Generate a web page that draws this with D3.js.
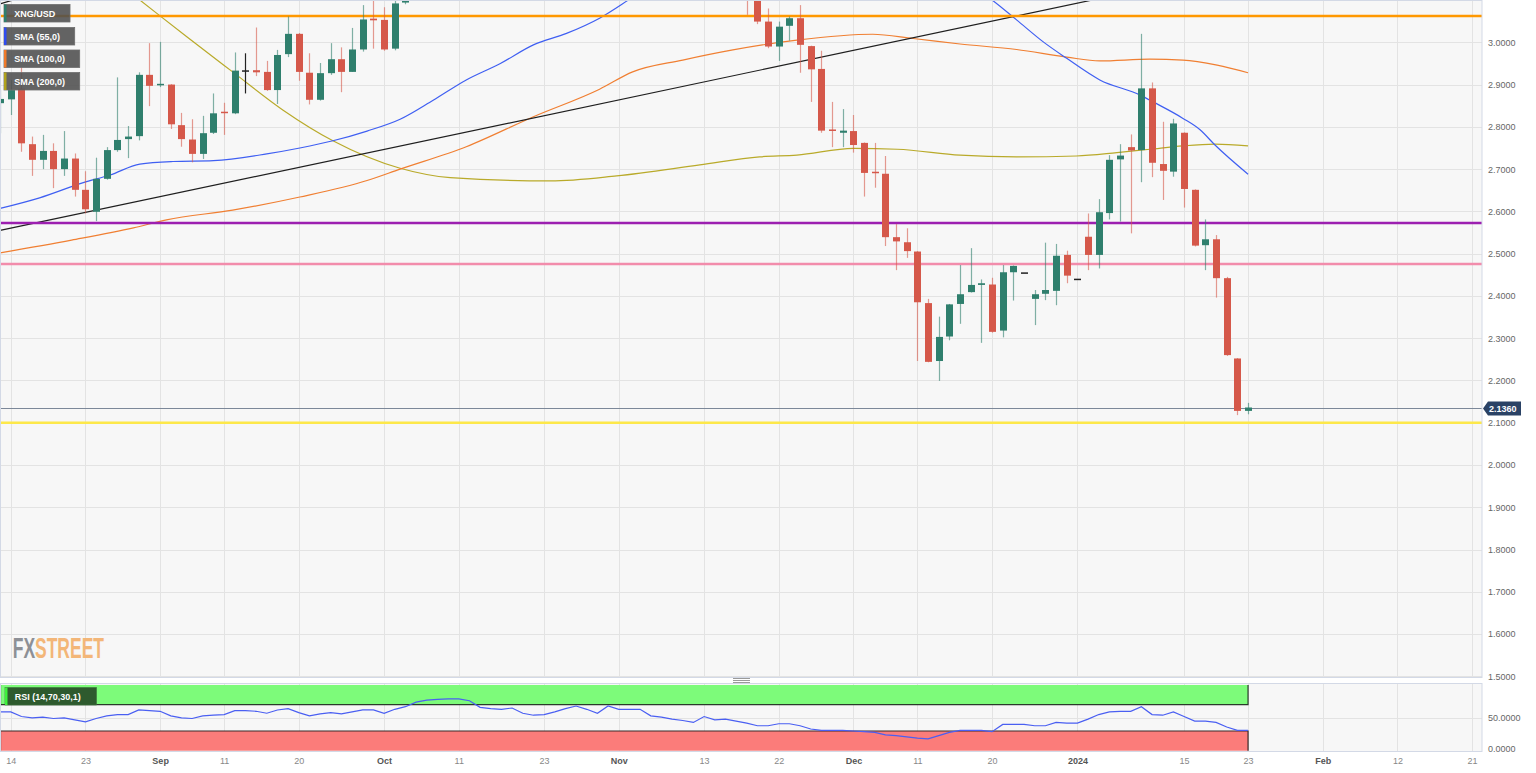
<!DOCTYPE html>
<html><head><meta charset="utf-8">
<script src="https://cdn.jsdelivr.net/npm/d3@7"></script>
<style>html,body{margin:0;padding:0;background:#fff;overflow:hidden}svg{display:block}</style>
</head><body>
<svg id="c" width="1536" height="773"></svg>
<script>
// ---------- DATA ----------
const firstDay = "2023-08-11";           // first (partly visible) daily candle
const axisLastDay = "2024-02-23";        // right end of time axis
// Daily candles, Aug 11 2023 .. Jan 23 2024 (weekdays). Oct 5 .. Nov 17 lie above the visible range (estimated).
const opens = [2.856,2.865,2.890,2.759,2.722,2.743,2.700,2.725,2.651,2.599,2.677,2.745,2.771,2.778,2.923,2.897,2.900,2.804,2.770,2.736,2.786,2.834,2.832,2.932,2.934,2.930,2.887,2.972,3.020,2.928,2.864,2.927,2.960,2.930,2.983,3.056,3.053,2.985,3.094,
 3.160,3.280,3.330,3.420,3.370,3.400,3.330,3.250,3.220,3.210,3.240,3.180,3.170,3.190,3.240,3.280,3.330,3.370,3.290,3.240,3.380,3.330,3.340,3.320,3.220,3.200,3.180,3.150,3.250,3.210,3.190,3.170,
 3.120,3.049,2.990,3.039,3.057,2.991,2.937,2.792,2.786,2.790,2.762,2.692,2.689,2.539,2.527,2.505,2.383,2.246,2.304,2.381,2.409,2.426,2.427,2.318,2.456,2.454,2.393,2.405,2.412,2.497,2.439,
 2.540,2.497,2.596,2.723,2.752,2.745,2.891,2.712,2.694,2.786,2.651,2.520,2.534,2.442,2.252,2.128];
const highs = [2.887,2.911,2.941,2.777,2.781,2.761,2.790,2.737,2.695,2.727,2.752,2.917,2.802,2.929,2.998,3.001,2.901,2.833,2.818,2.826,2.879,2.857,2.976,2.974,3.035,2.956,2.982,3.061,3.022,2.974,2.951,2.998,2.988,3.034,3.088,3.110,3.083,3.105,3.180,
 3.300,3.360,3.450,3.470,3.450,3.460,3.380,3.300,3.260,3.280,3.270,3.220,3.220,3.260,3.310,3.360,3.400,3.400,3.340,3.400,3.420,3.380,3.370,3.330,3.260,3.240,3.210,3.280,3.280,3.240,3.220,3.200,
 3.140,3.080,3.049,3.061,3.088,2.992,2.980,2.859,2.842,2.828,2.763,2.762,2.731,2.570,2.560,2.506,2.393,2.351,2.381,2.473,2.513,2.439,2.443,2.473,2.472,2.454,2.414,2.526,2.523,2.507,2.439,
 2.595,2.629,2.733,2.759,2.782,3.020,2.905,2.812,2.819,2.787,2.652,2.581,2.544,2.445,2.253,2.147];
const lows = [2.785,2.828,2.741,2.684,2.700,2.655,2.684,2.635,2.595,2.577,2.675,2.741,2.726,2.768,2.849,2.894,2.795,2.753,2.716,2.724,2.783,2.781,2.830,2.879,2.920,2.885,2.854,2.965,2.909,2.853,2.862,2.923,2.882,2.930,2.978,2.985,2.980,2.981,3.090,
 3.140,3.250,3.300,3.330,3.320,3.300,3.220,3.180,3.160,3.170,3.150,3.130,3.120,3.160,3.200,3.250,3.280,3.260,3.200,3.220,3.300,3.280,3.260,3.180,3.150,3.140,3.120,3.140,3.180,3.150,3.140,3.065,
 3.043,2.986,2.956,3.004,2.928,2.859,2.786,2.752,2.752,2.739,2.635,2.656,2.518,2.461,2.490,2.246,2.243,2.199,2.295,2.334,2.408,2.289,2.313,2.302,2.389,2.454,2.331,2.390,2.378,2.430,2.439,
 2.461,2.465,2.581,2.576,2.548,2.669,2.681,2.627,2.682,2.609,2.517,2.461,2.396,2.258,2.118,2.120];
const closes = [2.866,2.887,2.761,2.722,2.743,2.700,2.725,2.651,2.605,2.677,2.745,2.769,2.777,2.923,2.897,2.900,2.806,2.771,2.736,2.785,2.832,2.832,2.933,2.932,2.929,2.887,2.970,3.020,2.930,2.864,2.927,2.960,2.930,2.983,3.054,3.052,2.983,3.092,3.160,
 3.280,3.330,3.420,3.370,3.400,3.330,3.250,3.220,3.210,3.240,3.180,3.170,3.190,3.240,3.280,3.330,3.370,3.290,3.240,3.380,3.330,3.340,3.320,3.220,3.200,3.180,3.150,3.250,3.210,3.190,3.170,3.120,
 3.049,2.990,3.037,3.057,2.994,2.936,2.791,2.789,2.791,2.757,2.691,2.689,2.539,2.529,2.506,2.385,2.244,2.303,2.380,2.404,2.426,2.430,2.315,2.456,2.471,2.454,2.404,2.414,2.495,2.448,2.439,
 2.497,2.598,2.722,2.732,2.744,2.891,2.715,2.696,2.808,2.653,2.519,2.534,2.442,2.260,2.128,2.136];
// RSI(14) per candle
const rsi14 = [59,59,52,50,51,49,50,47,44,49,53,55,55,62,61,60,53,50,49,53,54,55,61,61,60,57,62,64,58,53,56,58,56,59,62,62,57,63,67,
 74,77,78,79,79,76,66,64,63,65,57,54,55,59,64,68,63,57,68,63,63,63,53,51,48,46,43,52,47,48,45,42,
 38,38,41,41,38,33,31,31,31,30,29,28,24,23,21,19,18,23,28,31,31,31,29,40,40,40,38,38,43,42,42,
 48,55,59,60,60,67,55,54,59,52,45,45,43,36,31,31];
// Moving averages: [candle number (0 = Aug 11), value]
const sma55 = [[0,2.607],[3.7,2.632],[7.8,2.668],[10.3,2.686],[13.1,2.712],[16.2,2.718],[20,2.720],[25,2.736],[28.1,2.750],[31.2,2.767],[34.4,2.790],[37.5,2.818],[40.6,2.863],[43.7,2.911],[46.9,2.950],[50,2.994],[53.1,3.021],[56.2,3.057],[58.9,3.100],[63,3.17],[69,3.22],[75,3.24],[81,3.23],[87,3.19],[93,3.100],[95.3,3.053],[97.8,3.001],[100,2.962],[103.1,2.911],[106.9,2.875],[108.1,2.859],[110.9,2.820],[112.5,2.793],[113.9,2.757],[117,2.688]];
const sma100 = [[0,2.502],[6.7,2.532],[12.5,2.561],[15.6,2.580],[21.8,2.603],[28.1,2.634],[34.4,2.673],[37.5,2.700],[43.7,2.753],[50,2.824],[56.2,2.889],[59.3,2.930],[64,2.958],[68.7,2.982],[74.7,3.005],[81.8,3.019],[85.6,3.009],[90,2.996],[95.3,2.983],[100,2.965],[103.1,2.956],[107.8,2.960],[110.9,2.958],[114.1,2.946],[117,2.928]];
const sma200 = [[0,3.36],[6,3.24],[13.1,3.100],[17.5,3.013],[21.8,2.930],[26.5,2.840],[31.2,2.767],[37.5,2.702],[42.2,2.680],[51.6,2.672],[57.8,2.684],[65.6,2.710],[71.2,2.729],[74.7,2.733],[80,2.749],[84.1,2.747],[90,2.733],[95.3,2.729],[100.9,2.731],[104.7,2.739],[107.8,2.747],[110.9,2.755],[113.9,2.759],[117,2.755]];
// Trend lines (two anchor points each, extended to the right)
const trendMain = [[0,2.555],[71.2,2.934]];
const trendTop = [[0,3.091],[1.2,3.100]];
// Horizontal levels
const levelValues = [3.062, 2.5725, 2.4757, 2.100];
const levelColors = ["#ff9800", "#9c1fb0", "#f28cab", "#fde84a"];
const lastPrice = 2.1360;
// Axis ticks
const priceTicks = [1.5,1.6,1.7,1.8,1.9,2.0,2.1,2.2,2.3,2.4,2.5,2.6,2.7,2.8,2.9,3.0];
const rsiTicks = [0, 50];
const tickDates = ["2023-08-14","2023-08-23","2023-09-01","2023-09-11","2023-09-20","2023-10-02","2023-10-11","2023-10-23","2023-11-01","2023-11-13","2023-11-22","2023-12-01","2023-12-11","2023-12-20","2024-01-01","2024-01-15","2024-01-23","2024-02-01","2024-02-12","2024-02-21"];
const tickLabels = ["14","23","Sep","11","20","Oct","11","23","Nov","13","22","Dec","11","20","2024","15","23","Feb","12","21"];
const legendNames = ["XNG/USD","SMA (55,0)","SMA (100,0)","SMA (200,0)"];
const legendColors = ["#2f7f6d","#2f4cf0","#f07a2a","#b0a21c"];

// ---------- LAYOUT ----------
const svg = d3.select("#c");
const W = 1482, mainTop = 0, mainBot = 677, rsiTop = 683, rsiBot = 751;
const FONT = "'Liberation Sans', Arial, sans-serif";
const fmt = d3.timeFormat("%Y-%m-%d");
const days = d3.timeDay.range(new Date(firstDay + "T00:00"), d3.timeDay.offset(new Date(axisLastDay + "T00:00"), 1))
  .filter(d => d.getDay() !== 0 && d.getDay() !== 6);
const dayIndex = new Map(days.map((d, i) => [fmt(d), i]));
const candles = opens.map((o, i) => ({k: i, o, h: highs[i], l: lows[i], c: closes[i], r: rsi14[i]}));
const lastK = candles.length - 1;

const x = d3.scaleLinear().domain([0, 138]).range([0.13, 1472.04]);
const y = d3.scaleLinear().domain([1.5, 3.0]).range([676.35, 42.3]);
const yr = d3.scaleLinear().domain([0, 100]).range([750.7, 685]);

const defs = svg.append("defs");
defs.append("clipPath").attr("id", "clipMain").append("rect").attr("x", 0).attr("y", mainTop).attr("width", W).attr("height", mainBot - mainTop);
defs.append("clipPath").attr("id", "clipRsi").append("rect").attr("x", 0).attr("y", rsiTop).attr("width", W).attr("height", rsiBot - rsiTop);

// panels
svg.append("rect").attr("x", 0.5).attr("y", mainTop + 0.5).attr("width", W - 0.5).attr("height", mainBot - mainTop).attr("fill", "#f7f7f7");
svg.append("rect").attr("x", 0.5).attr("y", rsiTop + 0.5).attr("width", W - 0.5).attr("height", rsiBot - rsiTop).attr("fill", "#f7f7f7");

const tickK = tickDates.map(d => dayIndex.get(d));
// grid
const grid = svg.append("g").attr("stroke", "#e3e3e3").attr("stroke-width", 1);
grid.selectAll(".hg").data(priceTicks).join("line")
  .attr("x1", 0).attr("x2", W).attr("y1", d => Math.round(y(d)) + 0.5).attr("y2", d => Math.round(y(d)) + 0.5);
grid.selectAll(".vg").data(tickK).join("line")
  .attr("x1", d => Math.round(x(d)) + 0.5).attr("x2", d => Math.round(x(d)) + 0.5).attr("y1", mainTop).attr("y2", mainBot);
grid.selectAll(".vr").data(tickK).join("line")
  .attr("x1", d => Math.round(x(d)) + 0.5).attr("x2", d => Math.round(x(d)) + 0.5).attr("y1", rsiTop).attr("y2", rsiBot);
grid.append("line").attr("x1", 0).attr("x2", W).attr("y1", Math.round(yr(50)) + 0.5).attr("y2", Math.round(yr(50)) + 0.5);

// ---------- MAIN PANEL ----------
const main = svg.append("g").attr("clip-path", "url(#clipMain)");

// SMA lines
const smaLine = d3.line().x(d => x(d[0])).y(d => y(d[1])).curve(d3.curveMonotoneX);
main.append("path").datum(sma200).attr("d", smaLine).attr("fill", "none").attr("stroke", "#b9aa2a").attr("stroke-width", 1.2);
main.append("path").datum(sma100).attr("d", smaLine).attr("fill", "none").attr("stroke", "#f07f32").attr("stroke-width", 1.2);
main.append("path").datum(sma55).attr("d", smaLine).attr("fill", "none").attr("stroke", "#3f5ff2").attr("stroke-width", 1.2);

// trend lines (extended to right edge)
function ray(pts) {
  const [a, b] = pts, s = (b[1] - a[1]) / (b[0] - a[0]);
  const kEnd = x.invert(W);
  return [a, [kEnd, a[1] + s * (kEnd - a[0])]];
}
const straight = d3.line().x(d => x(d[0])).y(d => y(d[1]));
main.append("path").datum(ray(trendMain)).attr("d", straight).attr("stroke", "#1f1f1f").attr("stroke-width", 1.2).attr("fill", "none");
main.append("path").datum(ray(trendTop)).attr("d", straight).attr("stroke", "#1f1f1f").attr("stroke-width", 1.2).attr("fill", "none");

// horizontal levels
main.selectAll(".lvl").data(levelValues).join("line")
  .attr("x1", 0).attr("x2", W).attr("y1", d => y(d)).attr("y2", d => y(d))
  .attr("stroke", (d, i) => levelColors[i]).attr("stroke-width", 2.5);

// last price line
main.append("line").attr("x1", 0).attr("x2", W).attr("y1", Math.round(y(lastPrice)) + 0.5).attr("y2", Math.round(y(lastPrice)) + 0.5)
  .attr("stroke", "#7c8899").attr("stroke-width", 1);

// candles
const UP = "#2f7f6d", DOWN = "#d5584a", FLAT = "#222";
const col = d => d.c > d.o ? UP : d.c < d.o ? DOWN : FLAT;
const bw = 7;
const cg = main.append("g");
cg.selectAll(".wick").data(candles.filter(d => d.h > d.l)).join("line")
  .attr("x1", d => Math.round(x(d.k)) + 0.5).attr("x2", d => Math.round(x(d.k)) + 0.5)
  .attr("y1", d => y(d.h)).attr("y2", d => y(d.l))
  .attr("stroke", col).attr("stroke-opacity", d => col(d) === FLAT ? 1 : 0.6).attr("stroke-width", 1.2);
cg.selectAll(".body").data(candles).join("rect")
  .attr("x", d => Math.round(x(d.k)) + 0.5 - bw / 2).attr("width", bw)
  .attr("y", d => Math.min(y(d.o), y(d.c)) - (Math.abs(y(d.o) - y(d.c)) < 1.5 ? 0.75 : 0))
  .attr("height", d => Math.max(1.5, Math.abs(y(d.o) - y(d.c))))
  .attr("fill", col);

// panel borders
svg.append("rect").attr("x", 0.5).attr("y", mainTop + 0.5).attr("width", W - 0.5).attr("height", mainBot - mainTop)
  .attr("fill", "none").attr("stroke", "#d3d9e6");

// ---------- RSI PANEL ----------
const rsiG = svg.append("g").attr("clip-path", "url(#clipRsi)");
const xEnd = x(lastK);
rsiG.append("rect").attr("x", 0).attr("y", yr(100)).attr("width", xEnd).attr("height", yr(70) - yr(100)).attr("fill", "#7dfb7a");
rsiG.append("rect").attr("x", 0).attr("y", yr(30)).attr("width", xEnd).attr("height", yr(0) - yr(30)).attr("fill", "#fb7c7a");
rsiG.append("path").attr("d", `M0.5,${yr(100)}V${yr(70)}H${xEnd}V${yr(100)}`).attr("fill", "none").attr("stroke", "#2a3a2a").attr("stroke-width", 1.2);
rsiG.append("path").attr("d", `M0.5,${yr(0)}V${yr(30)}H${xEnd}V${yr(0)}`).attr("fill", "none").attr("stroke", "#3a2a2a").attr("stroke-width", 1.2);
rsiG.append("path").datum(candles).attr("d", d3.line().x(d => x(d.k)).y(d => yr(d.r)))
  .attr("fill", "none").attr("stroke", "#4a5ff2").attr("stroke-width", 1.2);
svg.append("rect").attr("x", 0.5).attr("y", rsiTop + 0.5).attr("width", W - 0.5).attr("height", rsiBot - rsiTop)
  .attr("fill", "none").attr("stroke", "#d3d9e6");

// drag handle
svg.append("g").attr("stroke", "#9a9a9a").attr("stroke-width", 1).selectAll("line").data([0, 2, 4]).join("line")
  .attr("x1", 733).attr("x2", 750).attr("y1", d => 678.5 + d).attr("y2", d => 678.5 + d);

// ---------- AXES ----------
const yAxis = svg.append("g").attr("transform", `translate(${W},0)`)
  .call(d3.axisRight(y).tickValues(priceTicks).tickFormat(d3.format(".4f")).tickSize(0).tickPadding(6));
yAxis.select(".domain").remove();
yAxis.selectAll("text").attr("font-family", FONT).attr("font-size", 9).attr("fill", "#666");

const rAxis = svg.append("g").attr("transform", `translate(${W},0)`)
  .call(d3.axisRight(yr).tickValues(rsiTicks).tickFormat(d3.format(".4f")).tickSize(0).tickPadding(6));
rAxis.select(".domain").remove();
rAxis.selectAll("text").attr("font-family", FONT).attr("font-size", 9).attr("fill", "#666")
  .attr("dy", (d) => d === 0 ? "0.05em" : "0.32em");

const xAxis = svg.append("g").attr("transform", `translate(0,${rsiBot})`)
  .call(d3.axisBottom(x).tickValues(tickK).tickFormat((d, i) => tickLabels[i]).tickSize(0).tickPadding(7));
xAxis.select(".domain").remove();
xAxis.selectAll("text").attr("font-family", FONT).attr("font-size", 9)
  .attr("font-weight", (d, i) => /^\d{1,2}$/.test(tickLabels[i]) ? "normal" : "bold")
  .attr("fill", (d, i) => /^\d{1,2}$/.test(tickLabels[i]) ? "#888" : "#555");

// last price label
const yl = Math.round(y(lastPrice)) + 0.5;
svg.append("path").attr("d", `M${W + 1},${yl}L${W + 6},${yl - 7}H1521V${yl + 7}H${W + 6}Z`).attr("fill", "#2a4265");
svg.append("text").attr("x", 1489).attr("y", yl + 3.3).attr("font-family", FONT).attr("font-size", 9).attr("font-weight", "bold")
  .attr("fill", "#fff").text(d3.format(".4f")(lastPrice));

// ---------- LEGENDS ----------
const leg = svg.append("g");
legendNames.forEach((name, i) => {
  const g = leg.append("g").attr("transform", `translate(4,${[4.5, 27.5, 50, 72.5][i]})`);
  const r = g.append("rect").attr("height", 17.5).attr("fill", "#4f4f4f").attr("fill-opacity", 0.88).attr("stroke", "#6e6e6e").attr("stroke-width", 0.8);
  g.append("rect").attr("width", 2.5).attr("height", 17.5).attr("fill", legendColors[i]);
  const t = g.append("text").attr("x", 10.3).attr("y", 12.3).attr("font-family", FONT).attr("font-size", 9).attr("font-weight", "bold").attr("fill", "#fff").text(name);
  r.attr("width", t.node().getComputedTextLength() + 25);
});
const rg = svg.append("g").attr("transform", "translate(5,687.5)");
rg.append("rect").attr("width", 91.5).attr("height", 17.5).attr("fill", "#2e5a2e").attr("stroke", "#3b6e3b").attr("stroke-width", 0.6);
rg.append("rect").attr("width", 2.5).attr("height", 17.5).attr("fill", "#3df03d");
rg.append("text").attr("x", 9.7).attr("y", 12.3).attr("font-family", FONT).attr("font-size", 9).attr("font-weight", "bold").attr("fill", "#fff").text("RSI (14,70,30,1)");

// watermark (single text, two coloured parts, horizontally condensed by a transform)
const wmG = svg.append("g");
const wm = wmG.append("text").attr("x", 0).attr("y", 0).attr("font-family", FONT).attr("font-weight", "bold").attr("font-size", 29);
wm.append("tspan").attr("fill", "#8d9096").text("FX");
wm.append("tspan").attr("fill", "#f3b678").text("STREET");
const wmLen = wm.node().getComputedTextLength();
wmG.attr("transform", `translate(12.7,658.3) scale(${91.3 / wmLen},1)`);
</script>
</body></html>
